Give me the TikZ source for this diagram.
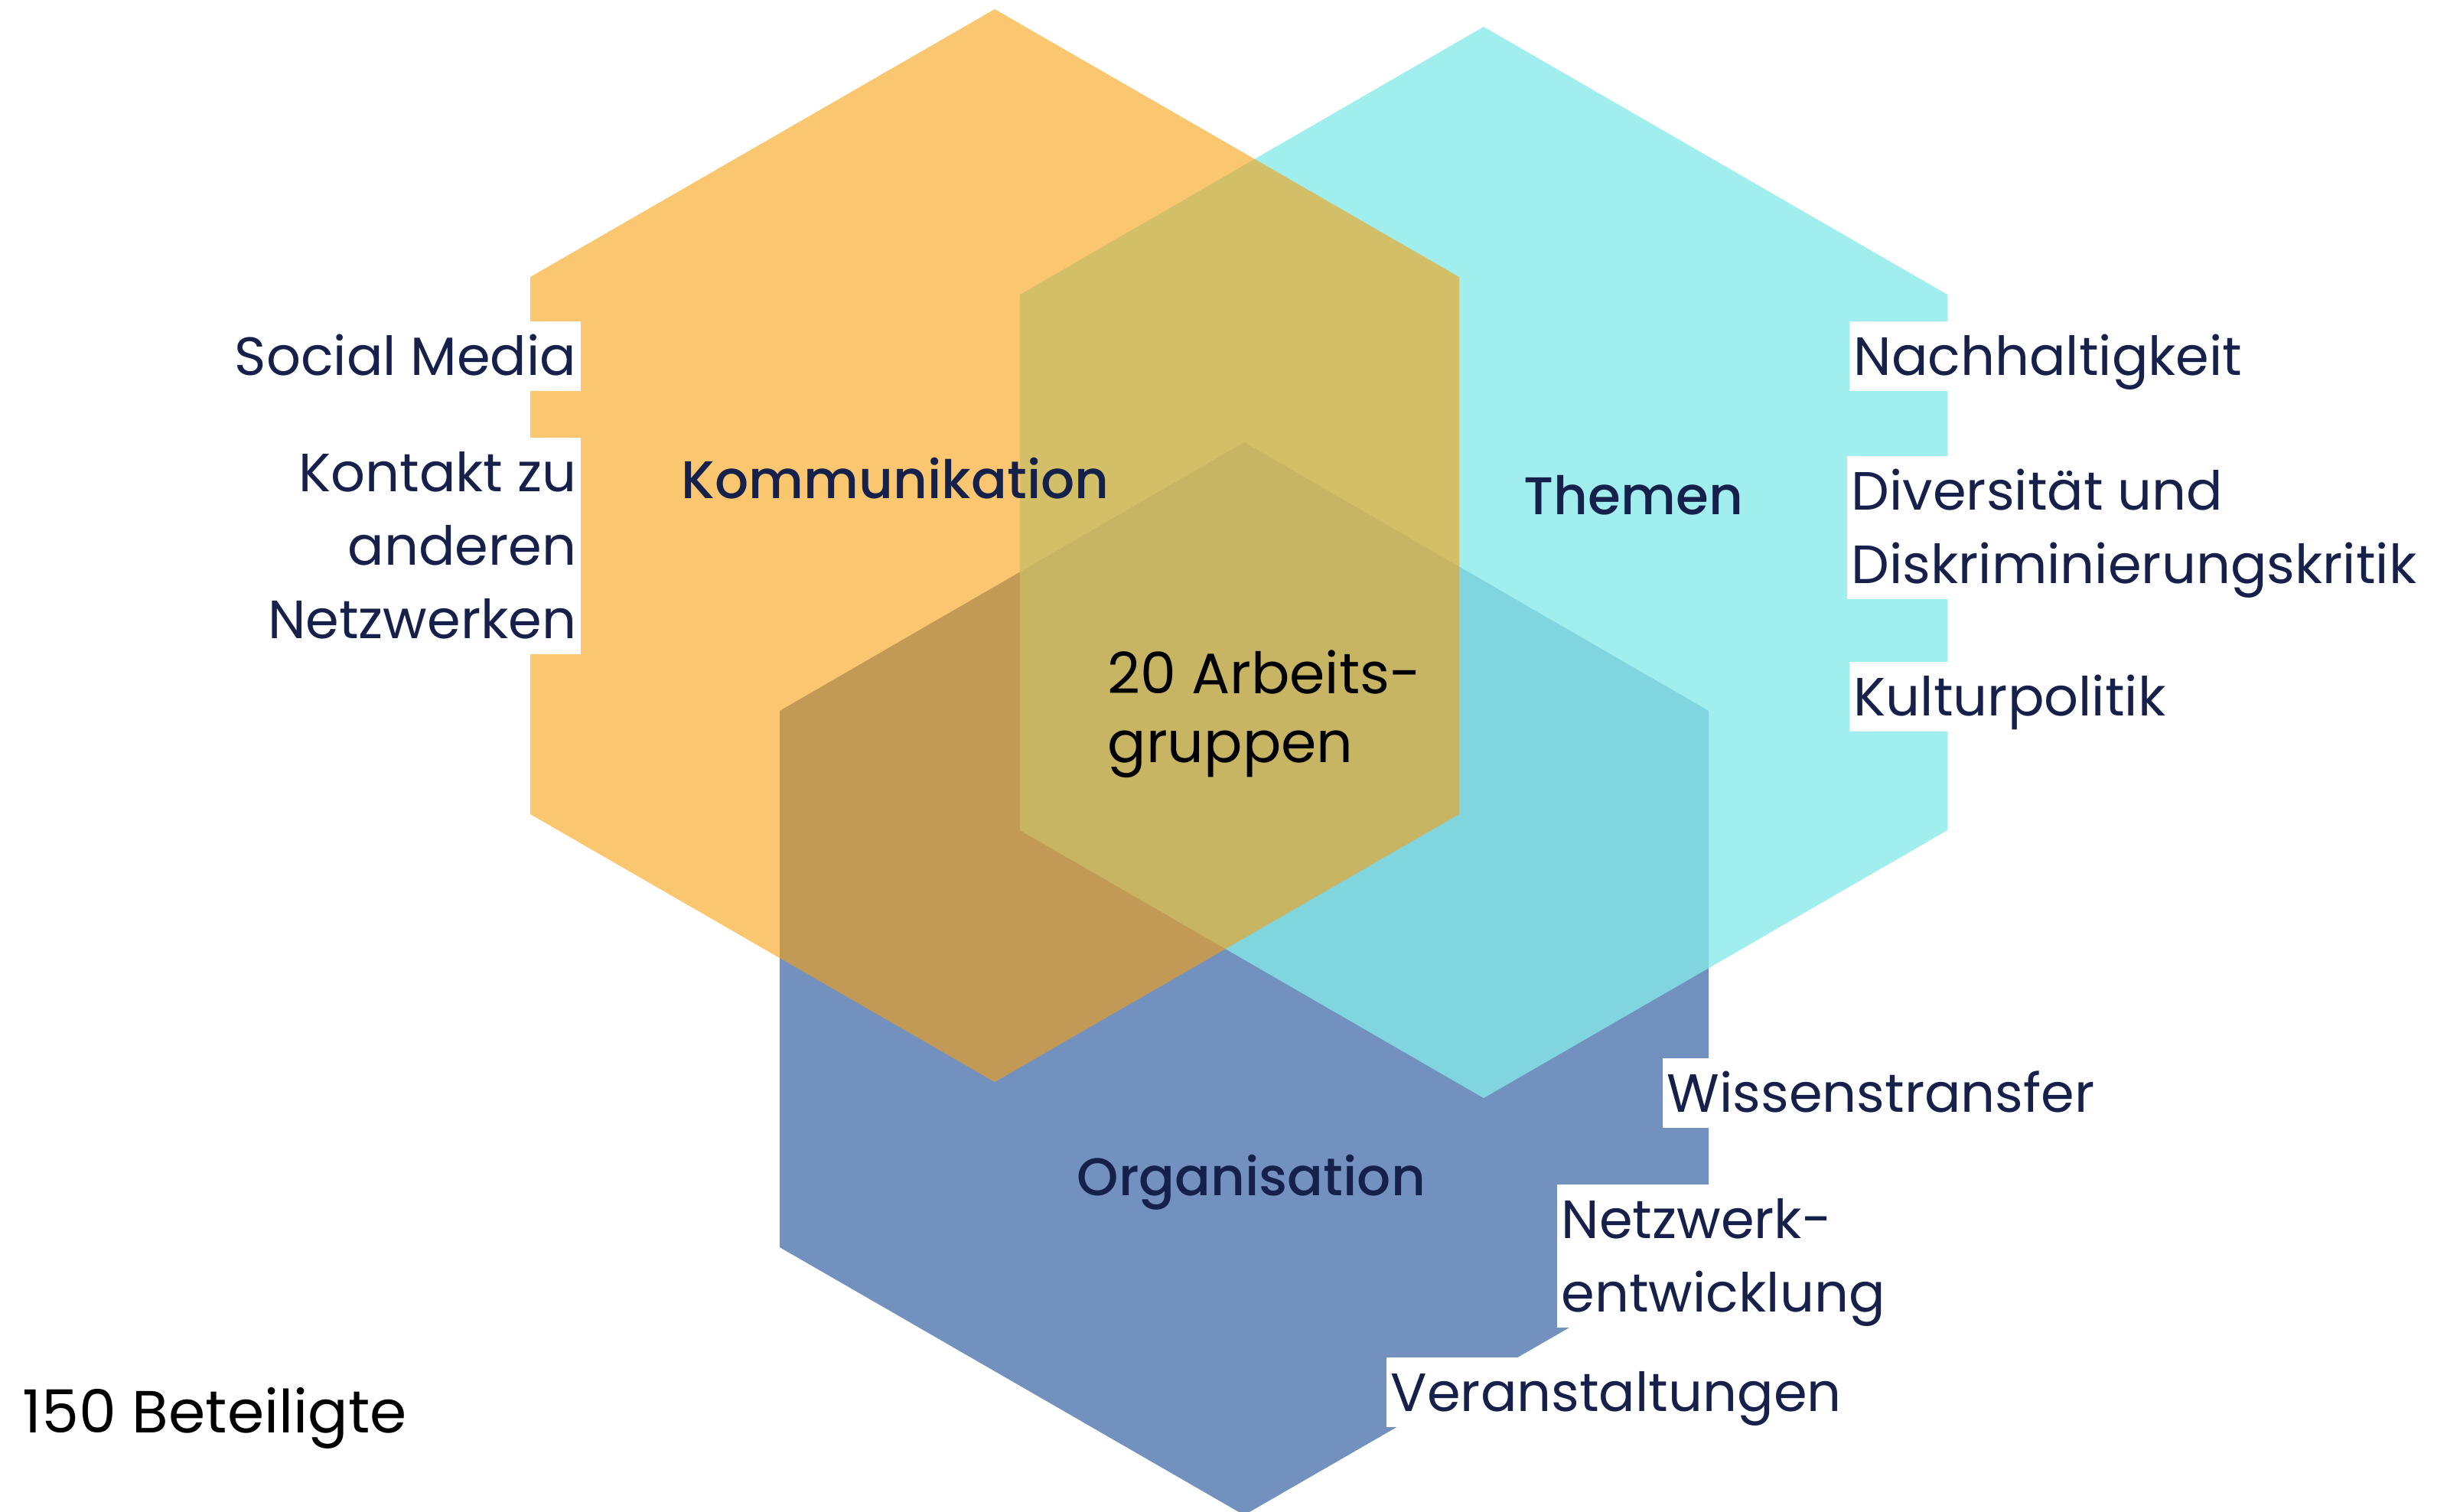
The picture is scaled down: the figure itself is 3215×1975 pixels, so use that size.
\documentclass[tikz,border=0pt]{standalone}
\usepackage{fontspec}
\setmainfont{Poppins}
\newfontfamily\medfont{Poppins Medium}
\usepackage{tikz}
\definecolor{navy}{HTML}{16214B}
\definecolor{korange}{RGB}{248,160,17}
\definecolor{tcyan}{RGB}{133,233,233}
\definecolor{oblue}{RGB}{114,145,190}
\newcommand{\lstr}{\rule[-0.2cm]{0pt}{0.91cm}}
\newcommand{\gstr}{\rule[-0.15cm]{0pt}{0.85cm}}

\begin{document}
\begin{tikzpicture}[x=0.01cm, y=-0.01cm,
	side/.style={fill=white, inner xsep=0.06cm, inner ysep=0pt, text=navy, font=\fontsize{20}{27.3}\selectfont},
	head/.style={anchor=base west, inner sep=0pt, text=navy, font=\medfont\fontsize{19.7}{25}\selectfont}]
	\useasboundingbox (0,0) rectangle (3215,1975);
	\fill[oblue] (1626,578) -- (1019,929) -- (1019,1630) -- (1626,1980) -- (2233,1630) -- (2233,929) -- cycle;
	\fill[tcyan, fill opacity=0.78] (1939,35) -- (1333,385) -- (1333,1085) -- (1939,1435) -- (2545,1085) -- (2545,385) -- cycle;
	\fill[korange, fill opacity=0.6] (1300,12) -- (693,362) -- (693,1064) -- (1300,1414) -- (1907,1064) -- (1907,362) -- cycle;

	\node[side, anchor=north east] (social) at (760,419) {\lstr Social Media};
	\node[side, anchor=north east, align=right] (kontakt) at (760,571) {\lstr Kontakt zu\\\lstr anderen\\\lstr Netzwerken};
	\node[side, anchor=north west] (nachhalt) at (2416,419) {\lstr Nachhaltigkeit};
	\node[side, anchor=north west, align=left] (divers) at (2413,595) {\lstr Diversität und\\\lstr Diskriminierungskritik};
	\node[side, anchor=north west] (kultur) at (2416,864) {\lstr Kulturpolitik};
	\node[side, anchor=north west] (wissen) at (2172,1382) {\lstr Wissenstransfer};
	\node[side, anchor=north west, align=left] (netzw) at (2034,1547) {\lstr Netzwerk-\\\lstr entwicklung};
	\node[side, anchor=north west] (veranst) at (1811,1773) {\lstr Veranstaltungen};

	\node[head] (komm) at (890,651) {Kommunikation};
	\node[head] (them) at (1991,672) {Themen};
	\node[head] (orga) at (1407,1562) {Organisation};
	\node[anchor=north west, inner sep=0pt, align=left, font=\fontsize{21.2}{25.6}\selectfont] (arbeit) at (1447,836) {\gstr 20 Arbeits-\\\gstr gruppen};
	\node[anchor=base west, inner sep=0pt, font=\fontsize{22.1}{28}\selectfont] (beteil) at (29,1872) {150 Beteiligte};
\end{tikzpicture}
\end{document}
